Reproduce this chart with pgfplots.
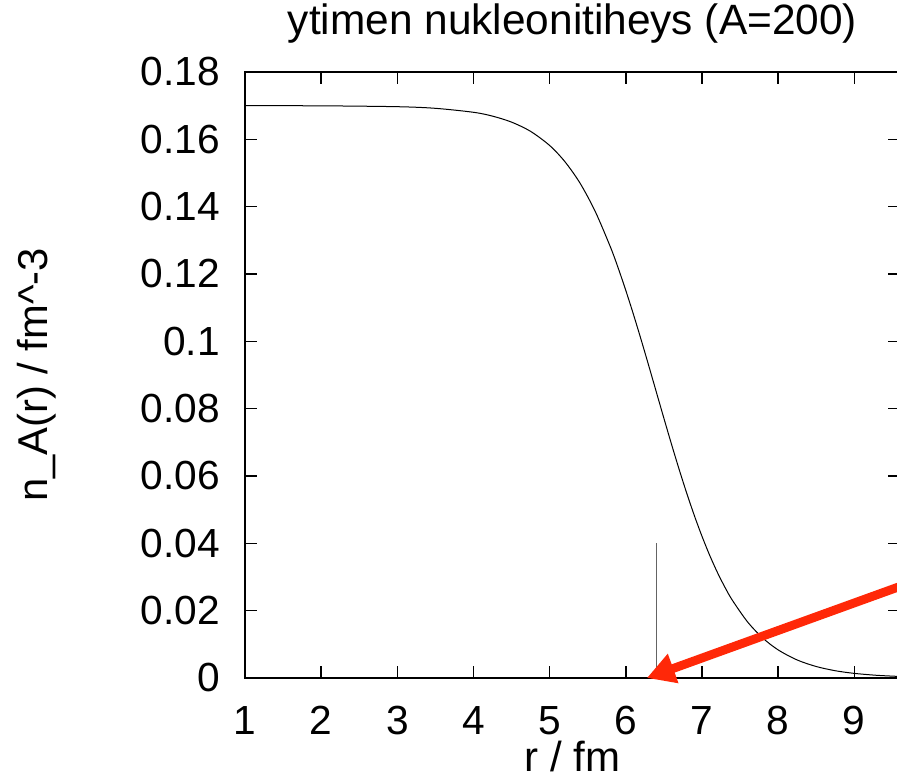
\documentclass[border=0pt]{standalone}
\usepackage{pgfplots}
\pgfplotsset{compat=1.18}
\usepackage{fontspec}
\setmainfont{Liberation Sans}
\usetikzlibrary{arrows.meta}
\definecolor{arrowred}{RGB}{255,40,8}
\begin{document}
\begin{tikzpicture}
\begin{axis}[
  at={(0,0)}, anchor=south west,
  scale only axis,
  width=491.25pt, height=454.5pt,
  xmin=1, xmax=9.6, ymin=0, ymax=0.18,
  xtick={1,2,3,4,5,6,7,8,9},
  ytick={0,0.02,0.04,0.06,0.08,0.1,0.12,0.14,0.16,0.18},
  yticklabels={0,0.02,0.04,0.06,0.08,0.1,0.12,0.14,0.16,0.18},
  tick align=inside,
  tick pos=both,
  major tick length=9pt,
  every tick/.style={black, line width=1.1pt},
  axis line style={black, line width=1.1pt},
  /pgf/number format/assume math mode=true,
  tick label style={font=\fontsize{30.5pt}{36pt}\selectfont},
  xticklabel style={anchor=base, yshift=-42.75pt},
  yticklabel style={anchor=east, inner sep=0pt, xshift=-18.75pt},
  title={ytimen nukleonitiheys (A=200)},
  title style={font=\fontsize{31.8pt}{36pt}\selectfont, at={(axis description cs:0.5,1)}, anchor=base, yshift=21.75pt},
  xlabel={r / fm},
  xlabel style={font=\fontsize{31.5pt}{36pt}\selectfont, at={(axis description cs:0.5,-0.1551)}, anchor=base},
  ylabel={n\_A(r) / fm\^{}-3},
  ylabel style={font=\fontsize{31.3pt}{36pt}\selectfont, at={(axis description cs:-0.3008,0.5)}, anchor=base, rotate=0},
  clip=false,
]
\addplot[black, line width=0.75pt, smooth, no markers] coordinates {
(1.0,0.16999) (2.0,0.16995) (3.0,0.16969) (3.5,0.16921) (4.0,0.16803)
(4.25,0.16689) (4.5,0.16511) (4.75,0.16236) (5.0,0.15817) (5.2,0.15337)
(5.4,0.14695) (5.6,0.13850) (5.8,0.12790) (5.9,0.12177) (6.0,0.11511)
(6.1,0.10802) (6.2,0.10056) (6.3,0.09285) (6.4,0.08500) (6.5,0.07715)
(6.6,0.06944) (6.7,0.06198) (6.8,0.05488) (6.9,0.04824) (7.0,0.04211)
(7.1,0.03651) (7.2,0.03148) (7.3,0.02701) (7.4,0.02306) (7.6,0.01662)
(7.8,0.01184) (8.0,0.00835) (8.25,0.00535) (8.5,0.00341) (8.75,0.00216)
(9.0,0.00137) (9.3,0.00079) (9.6,0.00045)
};
\addplot[color={rgb,255:red,100;green,100;blue,100}, line width=0.8pt, no markers] coordinates {(6.4,0) (6.4,0.0401)};
\addplot[arrowred, line width=6.6pt, no markers, -{Triangle[length=21pt,width=22pt]}] coordinates {(9.6,0.0272) (6.276,0.0)};
\end{axis}
\pgfresetboundingbox
\path (-183.75pt,-76.5pt) rectangle (489pt,508.5pt);
\end{tikzpicture}
\end{document}
